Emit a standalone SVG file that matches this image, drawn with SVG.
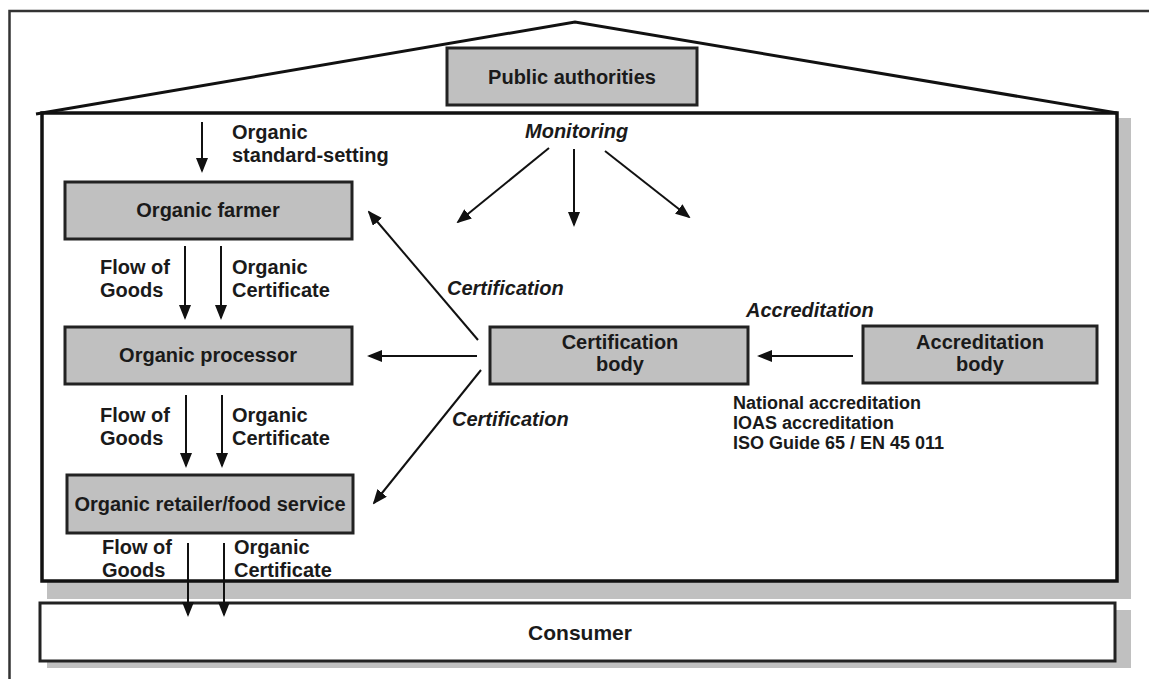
<svg xmlns="http://www.w3.org/2000/svg" width="1149" height="679" viewBox="0 0 1149 679">
  <defs>
    <marker id="arrow" markerUnits="userSpaceOnUse" markerWidth="15" markerHeight="12" refX="13" refY="6" orient="auto">
      <path d="M0,0 L15,6 L0,12 Z" fill="#111"/>
    </marker>
    <style>
      .frame { fill: none; stroke: #333; stroke-width: 2.5; }
      .roof { fill: none; stroke: #111; stroke-width: 3; stroke-linejoin: miter; }
      .house { fill: #fff; stroke: #111; stroke-width: 3.5; }
      .shadow { fill: #c0c0c0; stroke: none; }
      .box { fill: #c0c0c0; stroke: #222; stroke-width: 3; }
      .plain { fill: #fff; stroke: #222; stroke-width: 3; }
      .link { fill: none; stroke: #111; stroke-width: 2; marker-end: url(#arrow); }
      text { font-family: "Liberation Sans", Arial, sans-serif; font-weight: bold; fill: #1a1a1a; }
      .lbl { font-size: 20px; }
      .mid { text-anchor: middle; }
      .it { font-style: italic; font-size: 20px; }
      .note { font-size: 18px; }
    </style>
  </defs>

  <rect width="1149" height="679" fill="#fff"/>

  <!-- page frame (open to the right and bottom) -->
  <path class="frame" d="M9.5,679 V11 H1149"/>

  <!-- house body shadow and walls -->
  <rect class="shadow" x="47" y="118" width="1084" height="481"/>
  <rect class="house" x="42" y="113" width="1075" height="468"/>

  <!-- roof -->
  <path class="roof" d="M36,114 L575,22 L1117,113"/>

  <!-- consumer base -->
  <rect class="shadow" x="47" y="610" width="1084" height="58"/>

  <g id="public-authorities">
    <rect class="box" x="447" y="48" width="250" height="57"/>
    <text class="lbl mid" x="572" y="84">Public authorities</text>
  </g>

  <g id="organic-farmer">
    <rect class="box" x="65" y="182" width="287" height="57"/>
    <text class="lbl mid" x="208" y="217">Organic farmer</text>
  </g>

  <g id="organic-processor">
    <rect class="box" x="65" y="327" width="287" height="57"/>
    <text class="lbl mid" x="208" y="362">Organic processor</text>
  </g>

  <g id="organic-retailer">
    <rect class="box" x="67" y="475" width="286" height="58"/>
    <text class="lbl mid" x="210" y="511">Organic retailer/food service</text>
  </g>

  <g id="certification-body">
    <rect class="box" x="490" y="327" width="258" height="57"/>
    <text class="lbl mid" x="620" y="349">Certification</text>
    <text class="lbl mid" x="620" y="371">body</text>
  </g>

  <g id="accreditation-body">
    <rect class="box" x="863" y="326" width="234" height="57"/>
    <text class="lbl mid" x="980" y="349">Accreditation</text>
    <text class="lbl mid" x="980" y="371">body</text>
  </g>

  <g id="consumer">
    <rect class="plain" x="40" y="603" width="1075" height="58"/>
    <text class="mid" x="580" y="640" font-size="21">Consumer</text>
  </g>

  <g id="connectors">
    <!-- standard-setting into the farm -->
    <line class="link" x1="202" y1="122" x2="202" y2="171"/>
    <!-- farmer to processor -->
    <line class="link" x1="185" y1="246" x2="185" y2="318"/>
    <line class="link" x1="221" y1="246" x2="221" y2="318"/>
    <!-- processor to retailer -->
    <line class="link" x1="186" y1="395" x2="186" y2="466"/>
    <line class="link" x1="222" y1="395" x2="222" y2="466"/>
    <!-- retailer to consumer -->
    <line class="link" x1="188" y1="543" x2="188" y2="615"/>
    <line class="link" x1="224" y1="543" x2="224" y2="615"/>
    <!-- monitoring -->
    <line class="link" x1="549" y1="148" x2="458" y2="222"/>
    <line class="link" x1="574" y1="149" x2="574" y2="225"/>
    <line class="link" x1="605" y1="151" x2="689" y2="217"/>
    <!-- certification -->
    <line class="link" x1="478" y1="340" x2="369" y2="212"/>
    <line class="link" x1="477" y1="356" x2="369" y2="356"/>
    <line class="link" x1="481" y1="370" x2="374" y2="503"/>
    <!-- accreditation -->
    <line class="link" x1="853" y1="356" x2="759" y2="356"/>
  </g>

  <g id="labels">
    <text class="lbl" x="232" y="139">Organic</text>
    <text class="lbl" x="232" y="162">standard-setting</text>

    <text class="lbl" x="100" y="274">Flow of</text>
    <text class="lbl" x="100" y="297">Goods</text>
    <text class="lbl" x="232" y="274">Organic</text>
    <text class="lbl" x="232" y="297">Certificate</text>

    <text class="lbl" x="100" y="422">Flow of</text>
    <text class="lbl" x="100" y="445">Goods</text>
    <text class="lbl" x="232" y="422">Organic</text>
    <text class="lbl" x="232" y="445">Certificate</text>

    <text class="lbl" x="102" y="554">Flow of</text>
    <text class="lbl" x="102" y="577">Goods</text>
    <text class="lbl" x="234" y="554">Organic</text>
    <text class="lbl" x="234" y="577">Certificate</text>

    <text class="it" x="525" y="138">Monitoring</text>
    <text class="it" x="447" y="295">Certification</text>
    <text class="it" x="452" y="426">Certification</text>
    <text class="it" x="746" y="317">Accreditation</text>

    <text class="note" x="733" y="409">National accreditation</text>
    <text class="note" x="733" y="429">IOAS accreditation</text>
    <text class="note" x="733" y="449">ISO Guide 65 / EN 45 011</text>
  </g>
</svg>
